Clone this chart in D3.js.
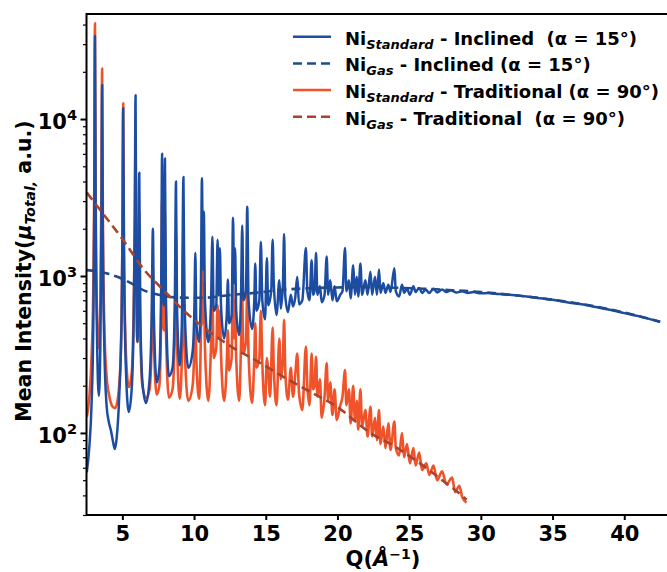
<!DOCTYPE html>
<html>
<head>
<meta charset="utf-8">
<script src="https://cdn.jsdelivr.net/npm/d3@7"></script>
<style>
  body { margin: 0; background: #fff; }
  text { font-family: "DejaVu Sans", sans-serif; font-weight: bold; fill: #000; white-space: pre; }
</style>
</head>
<body>
<div id="chart"></div>
<script>

// Q (1/A), mean intensity
var niStdInclined = [[2.52,56],[2.7,82],[2.85,150],[2.97,450],[3.04,2400],[3.09,33800],[3.14,2400],[3.24,380],[3.36,172],[3.47,380],[3.54,2200],[3.59,16500],[3.64,1800],[3.75,330],[3.9,150],[4.05,118],[4.2,104],[4.35,88],[4.47,79],[4.6,92],[4.78,170],[4.95,560],[5.01,2000],[5.06,11700],[5.11,1500],[5.25,250],[5.45,136],[5.65,190],[5.8,600],[5.87,2500],[5.92,14200],[5.97,1500],[6.05,380],[6.12,900],[6.18,4550],[6.24,700],[6.4,210],[6.65,155],[6.9,220],[7.05,600],[7.13,2000],[7.2,550],[7.4,210],[7.58,260],[7.71,900],[7.77,6000],[7.83,750],[7.9,650],[7.97,5600],[8.04,700],[8.25,230],[8.5,260],[8.66,700],[8.74,4000],[8.81,650],[9.0,270],[9.15,500],[9.26,4270],[9.33,700],[9.6,260],[9.9,330],[10.02,600],[10.09,1400],[10.16,500],[10.35,380],[10.48,900],[10.55,4200],[10.62,1100],[10.68,2570],[10.76,700],[11.0,380],[11.18,650],[11.28,1780],[11.37,600],[11.55,650],[11.64,1700],[11.72,750],[11.8,1500],[11.88,650],[12.1,400],[12.28,560],[12.36,950],[12.44,500],[12.62,560],[12.72,2350],[12.79,900],[12.86,1500],[12.94,600],[13.15,420],[13.28,800],[13.36,2100],[13.44,700],[13.62,800],[13.71,2760],[13.8,700],[14.05,460],[14.2,700],[14.27,1200],[14.35,600],[14.55,700],[14.66,1650],[14.76,700],[14.95,530],[15.08,1300],[15.17,650],[15.38,800],[15.48,1700],[15.56,900],[15.75,565],[15.95,940],[16.05,620],[16.2,900],[16.28,1850],[16.36,750],[16.55,590],[16.75,760],[16.9,640],[17.05,720],[17.2,990],[17.32,660],[17.55,700],[17.8,1510],[17.9,800],[18.05,700],[18.2,1260],[18.3,760],[18.4,800],[18.51,1400],[18.6,760],[18.78,860],[18.9,680],[19.1,760],[19.25,1330],[19.35,760],[19.5,940],[19.65,700],[19.8,860],[19.95,690],[20.2,760],[20.35,800],[20.53,1510],[20.62,800],[20.8,940],[20.92,720],[21.1,1170],[21.22,760],[21.35,990],[21.45,740],[21.6,1200],[21.72,760],[21.95,940],[22.1,760],[22.3,1065],[22.42,760],[22.62,990],[22.75,760],[22.9,1100],[23.0,780],[23.2,900],[23.35,780],[23.55,880],[23.7,790],[23.97,1120],[24.07,800],[24.3,740],[24.5,880],[24.65,780],[24.85,830],[25.05,760],[25.3,860],[25.45,790],[25.7,840],[25.9,780],[26.15,820],[26.4,780],[26.7,830],[26.95,785],[27.3,820],[27.6,790],[27.9,810],[28.3,785],[28.7,800],[29.1,780],[29.5,790],[30.0,775],[30.5,780],[31.0,770],[31.5,765],[32.0,760],[32.6,750],[33.2,740],[34.0,725],[35.0,705],[36.0,680],[37.0,660],[38.0,635],[39.0,610],[40.0,580],[41.0,555],[42.0,525],[42.5,510]];

var niGasInclined = [[2.52,1090],[3.5,1060],[4.5,1000],[5.5,910],[6.5,810],[7.6,756],[9.0,728],[10.6,726],[12.5,756],[14.4,783],[16,815],[18,835],[20,845],[22,848],[24,842],[26,830],[28,812],[30,790],[32,760],[34,725],[36,685],[38,640],[40,585],[42.5,510]];

var niStdTraditional = [[2.52,126],[2.7,170],[2.85,300],[2.97,800],[3.04,3500],[3.09,40700],[3.14,3500],[3.24,550],[3.36,347],[3.47,700],[3.54,3500],[3.59,21000],[3.64,2500],[3.75,450],[3.9,230],[4.1,170],[4.3,148],[4.5,144],[4.7,170],[4.88,300],[5.0,1500],[5.06,12600],[5.11,1600],[5.25,320],[5.45,196],[5.65,240],[5.8,700],[5.87,2000],[5.92,8000],[5.97,1200],[6.05,380],[6.12,700],[6.18,2500],[6.24,500],[6.4,200],[6.65,167],[6.9,190],[7.05,400],[7.13,1100],[7.2,380],[7.4,175],[7.58,200],[7.71,600],[7.77,3000],[7.83,500],[7.9,450],[7.97,2500],[8.04,450],[8.25,168],[8.5,190],[8.66,450],[8.74,1800],[8.81,400],[9.0,165],[9.15,300],[9.26,1800],[9.33,400],[9.6,160],[9.9,200],[10.02,350],[10.09,700],[10.16,300],[10.35,165],[10.48,450],[10.55,1500],[10.62,500],[10.68,900],[10.76,350],[11.0,160],[11.18,350],[11.28,700],[11.37,300],[11.55,350],[11.64,650],[11.72,400],[11.8,600],[11.88,320],[12.1,160],[12.28,280],[12.36,450],[12.44,250],[12.62,300],[12.72,900],[12.79,400],[12.86,700],[12.94,300],[13.15,160],[13.28,380],[13.36,750],[13.44,320],[13.62,380],[13.71,850],[13.8,320],[14.05,155],[14.2,300],[14.27,500],[14.35,260],[14.55,300],[14.66,600],[14.76,280],[14.95,150],[15.08,300],[15.17,250],[15.3,170],[15.48,470],[15.56,260],[15.75,150],[15.95,400],[16.05,220],[16.2,300],[16.28,525],[16.36,250],[16.55,163],[16.75,260],[16.9,170],[17.05,230],[17.2,320],[17.32,180],[17.55,140],[17.8,355],[17.9,200],[18.05,150],[18.2,320],[18.3,190],[18.4,200],[18.51,306],[18.6,170],[18.78,220],[18.9,125],[19.1,170],[19.25,279],[19.35,160],[19.5,210],[19.65,130],[19.8,190],[19.95,121],[20.2,150],[20.35,170],[20.53,252],[20.62,150],[20.8,190],[20.92,115],[21.1,200],[21.22,120],[21.35,160],[21.45,105],[21.6,190],[21.72,110],[21.95,140],[22.1,95],[22.3,147],[22.42,95],[22.62,125],[22.75,90],[22.9,140],[23.0,85],[23.2,110],[23.35,80],[23.55,115],[23.7,78],[23.97,118],[24.07,80],[24.3,72],[24.5,100],[24.65,70],[24.85,85],[25.05,64],[25.3,80],[25.45,62],[25.7,75],[25.9,58],[26.2,64],[26.4,54],[26.7,62],[26.95,50],[27.3,57],[27.6,47],[28.0,52],[28.2,42],[28.5,46],[28.7,39],[29.0,36]];

var niGasTraditional = [[2.52,3400],[3.5,2600],[5.07,1690],[6.5,1100],[7.86,815],[9.3,600],[10.88,455],[12.7,350],[14.6,280],[16,234],[18,185],[19.95,147],[22.3,100],[24,82],[25.76,64],[27.3,50],[28.8,39],[29.0,37.5]];

var xTicks = [5, 10, 15, 20, 25, 30, 35, 40];
var yMajor = [100, 1000, 10000];
var yMinor = [30,40,50,60,70,80,90,200,300,400,500,600,700,800,900,2000,3000,4000,5000,6000,7000,8000,9000,20000,30000,40000];

var legendRows = [
  {sub: "Standard", rest: " - Inclined  (\u03b1 = 15\u00b0)", color: "#1c4da3", dash: null},
  {sub: "Gas", rest: " - Inclined (\u03b1 = 15\u00b0)", color: "#1f4a8c", dash: "9,5"},
  {sub: "Standard", rest: " - Traditional (\u03b1 = 90\u00b0)", color: "#f0522a", dash: null},
  {sub: "Gas", rest: " - Traditional  (\u03b1 = 90\u00b0)", color: "#a8432c", dash: "9,5"}
];

var W = 667, H = 572;
var L = 86.5, T = 14, B = 515, R = 86.5 + 41 * 14.34;

var svg = d3.select("#chart").append("svg").attr("width", W).attr("height", H);

var x = d3.scaleLinear().domain([2.5, 43.5]).range([L, R]);
var y = d3.scaleLog().domain([30, 46700]).range([B, T]);

svg.append("clipPath").attr("id", "clip")
   .append("rect").attr("x", L).attr("y", T).attr("width", R - L).attr("height", B - T);

var line = d3.line().x(function(d) { return x(d[0]) }).y(function(d) { return y(d[1]) })
             .curve(d3.curveMonotoneX);

var plot = svg.append("g").attr("clip-path", "url(#clip)");
var series = [
  {data: niStdTraditional, color: legendRows[2].color, w: 2.6, dash: null},
  {data: niStdInclined, color: legendRows[0].color, w: 2.5, dash: null},
  {data: niGasInclined, color: legendRows[1].color, w: 2.6, dash: "9,5"},
  {data: niGasTraditional, color: legendRows[3].color, w: 2.6, dash: "9,5"}
];
series.forEach(function(s) {
  plot.append("path").datum(s.data)
      .attr("d", line)
      .attr("fill", "none")
      .attr("stroke", s.color)
      .attr("stroke-width", s.w)
      .attr("stroke-linejoin", "round")
      .attr("stroke-dasharray", s.dash);
});

// frame
svg.append("rect").attr("x", L).attr("y", T).attr("width", R - L).attr("height", B - T)
   .attr("fill", "none").attr("stroke", "#000").attr("stroke-width", 2);

// x axis
var gx = svg.append("g").attr("transform", "translate(0," + B + ")")
  .call(d3.axisBottom(x).tickValues(xTicks).tickSize(5).tickPadding(6).tickFormat(d3.format("d")));
gx.select(".domain").remove();
gx.selectAll("line").attr("stroke-width", 2);
gx.selectAll("text").style("font-size", "21px").style("font-family", "DejaVu Sans").style("font-weight", "bold");

// y axis, major + minor
var gy = svg.append("g").attr("transform", "translate(" + L + ",0)")
  .call(d3.axisLeft(y).tickValues(yMajor).tickSize(6).tickFormat(""));
gy.select(".domain").remove();
gy.selectAll("line").attr("stroke-width", 2);
var gy2 = svg.append("g").attr("transform", "translate(" + L + ",0)")
  .call(d3.axisLeft(y).tickValues(yMinor).tickSize(3.5).tickFormat(""));
gy2.select(".domain").remove();
gy2.selectAll("line").attr("stroke-width", 1.2);

yMajor.forEach(function(v) {
  var t = svg.append("text").attr("x", 77).attr("y", y(v) + 10)
     .attr("text-anchor", "end").style("font-size", "21px");
  t.append("tspan").text("10");
  t.append("tspan").attr("dy", -9).style("font-size", "14.5px").text(Math.round(Math.log10(v)));
});

// axis titles
var xt = svg.append("text").attr("x", 383).attr("y", 566).attr("text-anchor", "middle").style("font-size", "21px");
xt.append("tspan").text("Q(");
xt.append("tspan").style("font-style", "italic").text("\u00c5");
xt.append("tspan").attr("dy", -7).style("font-size", "14px").text("\u22121");
xt.append("tspan").attr("dy", 7).text(")");

var yt = svg.append("text").attr("transform", "translate(31,271) rotate(-90)")
  .attr("text-anchor", "middle").style("font-size", "20.5px");
yt.append("tspan").text("Mean Intensity(");
yt.append("tspan").style("font-style", "italic").text("\u03bc");
yt.append("tspan").attr("dy", 4).style("font-size", "14px").style("font-style", "italic").text("Total,");
yt.append("tspan").attr("dy", -4).text(" a.u.)");

// legend
var lg = svg.append("g");
legendRows.forEach(function(r, i) {
  var ly = 36.7 + i * 26.7;
  lg.append("line").attr("x1", 293).attr("x2", 331).attr("y1", ly).attr("y2", ly)
    .attr("stroke", r.color).attr("stroke-width", 2.5).attr("stroke-dasharray", r.dash);
  var t = lg.append("text").attr("x", 345).attr("y", ly + 8).style("font-size", "18px");
  t.append("tspan").text("Ni");
  t.append("tspan").attr("dy", 4).style("font-size", "13px").style("font-style", "italic").text(r.sub);
  t.append("tspan").attr("dy", -4).text(r.rest);
});

</script>
</body>
</html>
